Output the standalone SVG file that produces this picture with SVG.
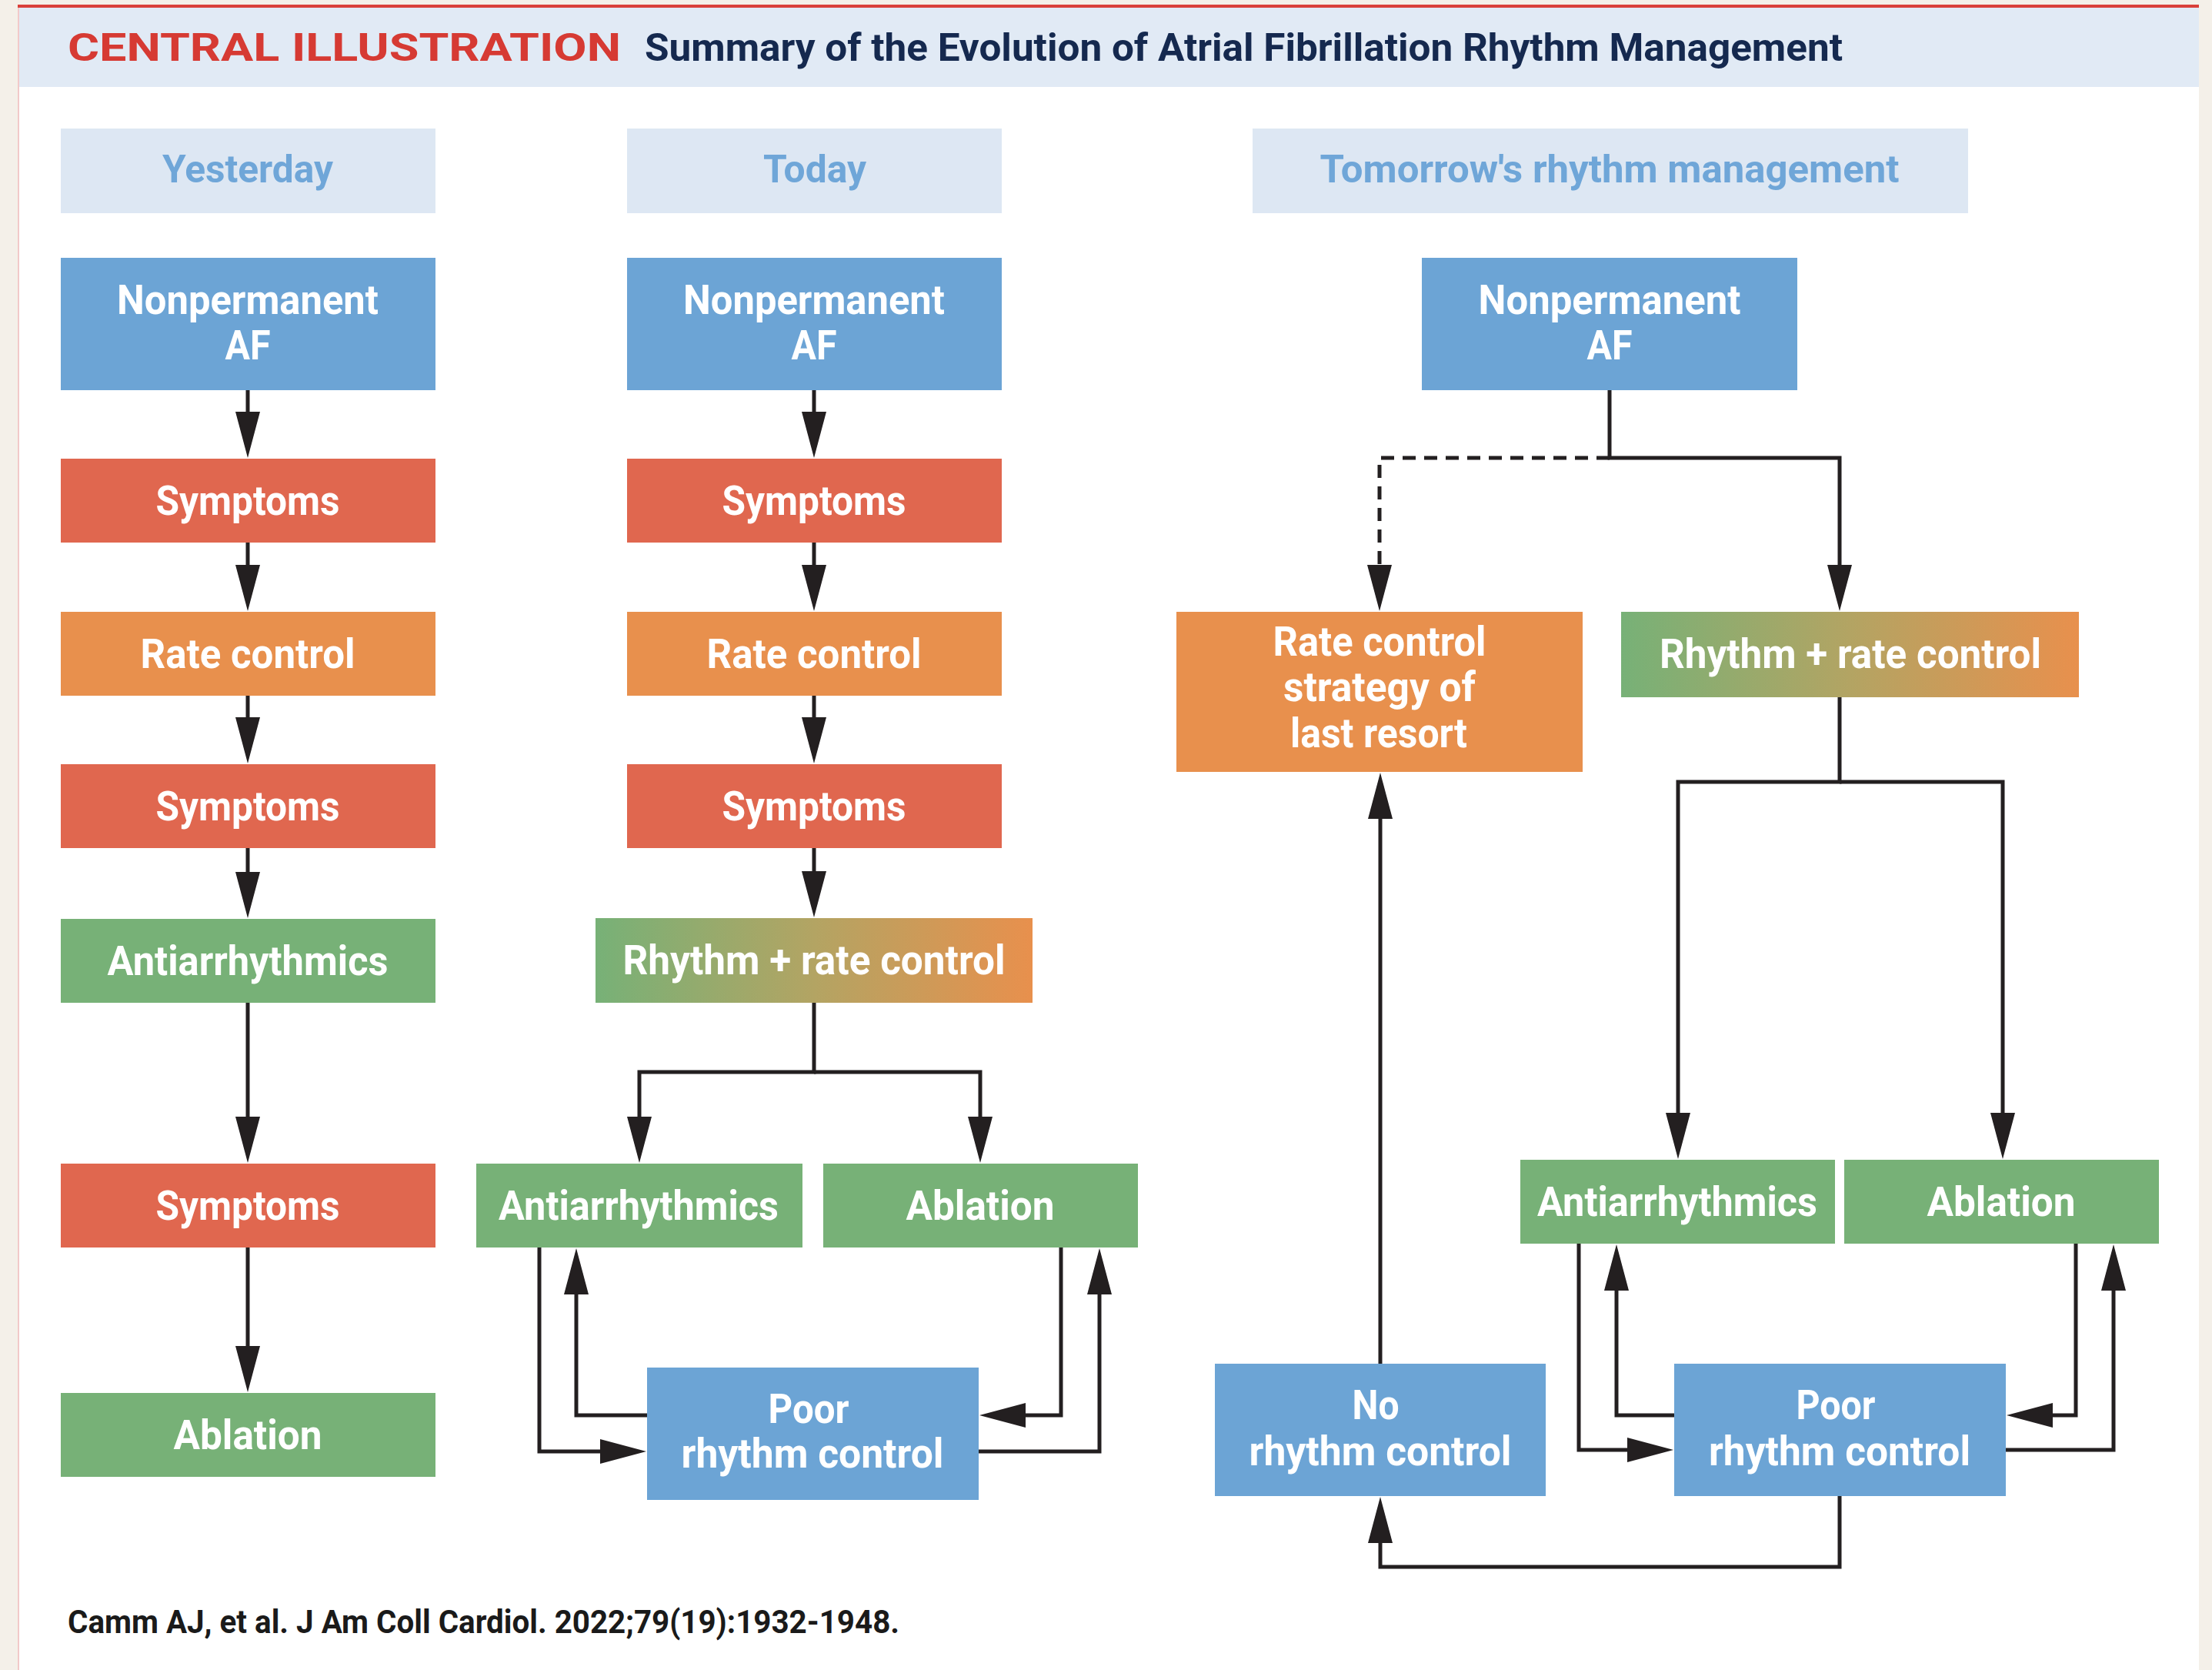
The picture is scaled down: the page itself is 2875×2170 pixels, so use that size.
<svg xmlns="http://www.w3.org/2000/svg" width="2875" height="2170" viewBox="0 0 2875 2170">
<defs>
<style>
.bg{fill:#F4F0E9}
.panel{fill:#FFFFFF}
.band{fill:#E1EAF5}
.hdr{fill:#DDE7F3}
.hdrt{font-family:Roboto,"Liberation Sans",sans-serif;font-weight:700;font-size:50px;fill:#6FA6D8;text-anchor:middle}
.blue{fill:#6CA4D5}
.red{fill:#E0674F}
.orange{fill:#E8904D}
.green{fill:#77B177}
.grad{fill:url(#rr)}
.lbl{font-family:Roboto,"Liberation Sans",sans-serif;font-weight:700;font-size:53px;fill:#FFFFFF;text-anchor:middle}
.ln{fill:none;stroke:#231F20;stroke-width:5;stroke-linejoin:miter;marker-end:url(#ah)}
.plain{fill:none;stroke:#231F20;stroke-width:5}
.dash{stroke-dasharray:17 11}
</style>
<marker id="ah" viewBox="0 0 60 32" refX="1" refY="16" markerWidth="60" markerHeight="32" markerUnits="userSpaceOnUse" orient="auto">
<path d="M0,0 L60,16 L0,32 Z" fill="#231F20"/>
</marker>
<linearGradient id="rr" x1="0" y1="0" x2="1" y2="0">
<stop offset="0" stop-color="#77B177"/>
<stop offset="0.5" stop-color="#B3A463"/>
<stop offset="1" stop-color="#E8904D"/>
</linearGradient>
</defs>

<rect class="bg" x="0" y="0" width="2875" height="2170"/>
<rect class="panel" x="23" y="8" width="2835" height="2162"/>
<rect x="23" y="10" width="2" height="2160" fill="#F2C9C9"/>
<rect x="23" y="6" width="2835" height="4" fill="#D9403A"/>
<rect class="band" x="25" y="10" width="2833" height="103"/>

<g id="title">
<text x="88" y="79" font-family="Roboto,'Liberation Sans',sans-serif" font-weight="700" font-size="50" fill="#D63A33" textLength="719" lengthAdjust="spacingAndGlyphs">CENTRAL ILLUSTRATION</text>
<text x="838" y="79" font-family="Roboto,'Liberation Sans',sans-serif" font-weight="700" font-size="50" fill="#15294F" textLength="1557" lengthAdjust="spacingAndGlyphs">Summary of the Evolution of Atrial Fibrillation Rhythm Management</text>
</g>

<g id="hdr-yesterday"><rect class="hdr" x="79" y="167" width="487" height="110"/><text class="hdrt" x="322" y="237" textLength="222" lengthAdjust="spacingAndGlyphs">Yesterday</text></g>
<g id="hdr-today"><rect class="hdr" x="815" y="167" width="487" height="110"/><text class="hdrt" x="1059" y="237" textLength="134" lengthAdjust="spacingAndGlyphs">Today</text></g>
<g id="hdr-tomorrow"><rect class="hdr" x="1628" y="167" width="930" height="110"/><text class="hdrt" x="2092" y="237" textLength="753" lengthAdjust="spacingAndGlyphs">Tomorrow's rhythm management</text></g>

<!-- Yesterday column -->
<g id="y1"><rect class="blue" x="79" y="335" width="487" height="172"/><text class="lbl" x="322" y="408" textLength="340" lengthAdjust="spacingAndGlyphs">Nonpermanent</text><text class="lbl" x="322" y="467" textLength="59" lengthAdjust="spacingAndGlyphs">AF</text></g>
<g id="y2"><rect class="red" x="79" y="596" width="487" height="109"/><text class="lbl" x="322" y="669" textLength="239" lengthAdjust="spacingAndGlyphs">Symptoms</text></g>
<g id="y3"><rect class="orange" x="79" y="795" width="487" height="109"/><text class="lbl" x="322" y="868" textLength="279" lengthAdjust="spacingAndGlyphs">Rate control</text></g>
<g id="y4"><rect class="red" x="79" y="993" width="487" height="109"/><text class="lbl" x="322" y="1066" textLength="239" lengthAdjust="spacingAndGlyphs">Symptoms</text></g>
<g id="y5"><rect class="green" x="79" y="1194" width="487" height="109"/><text class="lbl" x="322" y="1267" textLength="365" lengthAdjust="spacingAndGlyphs">Antiarrhythmics</text></g>
<g id="y6"><rect class="red" x="79" y="1512" width="487" height="109"/><text class="lbl" x="322" y="1585" textLength="239" lengthAdjust="spacingAndGlyphs">Symptoms</text></g>
<g id="y7"><rect class="green" x="79" y="1810" width="487" height="109"/><text class="lbl" x="322" y="1883" textLength="193" lengthAdjust="spacingAndGlyphs">Ablation</text></g>

<!-- Today column -->
<g id="t1"><rect class="blue" x="815" y="335" width="487" height="172"/><text class="lbl" x="1058" y="408" textLength="340" lengthAdjust="spacingAndGlyphs">Nonpermanent</text><text class="lbl" x="1058" y="467" textLength="59" lengthAdjust="spacingAndGlyphs">AF</text></g>
<g id="t2"><rect class="red" x="815" y="596" width="487" height="109"/><text class="lbl" x="1058" y="669" textLength="239" lengthAdjust="spacingAndGlyphs">Symptoms</text></g>
<g id="t3"><rect class="orange" x="815" y="795" width="487" height="109"/><text class="lbl" x="1058" y="868" textLength="279" lengthAdjust="spacingAndGlyphs">Rate control</text></g>
<g id="t4"><rect class="red" x="815" y="993" width="487" height="109"/><text class="lbl" x="1058" y="1066" textLength="239" lengthAdjust="spacingAndGlyphs">Symptoms</text></g>
<g id="t5"><rect class="grad" x="774" y="1193" width="568" height="110"/><text class="lbl" x="1058" y="1266" textLength="497" lengthAdjust="spacingAndGlyphs">Rhythm + rate control</text></g>
<g id="t6"><rect class="green" x="619" y="1512" width="424" height="109"/><text class="lbl" x="830" y="1585" textLength="364" lengthAdjust="spacingAndGlyphs">Antiarrhythmics</text></g>
<g id="t7"><rect class="green" x="1070" y="1512" width="409" height="109"/><text class="lbl" x="1274" y="1585" textLength="193" lengthAdjust="spacingAndGlyphs">Ablation</text></g>
<g id="t8"><rect class="blue" x="841" y="1777" width="431" height="172"/><text class="lbl" x="1051" y="1849" textLength="105" lengthAdjust="spacingAndGlyphs">Poor</text><text class="lbl" x="1056" y="1907" textLength="341" lengthAdjust="spacingAndGlyphs">rhythm control</text></g>

<!-- Tomorrow column -->
<g id="m1"><rect class="blue" x="1848" y="335" width="488" height="172"/><text class="lbl" x="2092" y="408" textLength="341" lengthAdjust="spacingAndGlyphs">Nonpermanent</text><text class="lbl" x="2092" y="467" textLength="59" lengthAdjust="spacingAndGlyphs">AF</text></g>
<g id="m2"><rect class="orange" x="1529" y="795" width="528" height="208"/><text class="lbl" x="1793" y="852" textLength="277" lengthAdjust="spacingAndGlyphs">Rate control</text><text class="lbl" x="1793" y="911" textLength="250" lengthAdjust="spacingAndGlyphs">strategy of</text><text class="lbl" x="1792" y="971" textLength="230" lengthAdjust="spacingAndGlyphs">last resort</text></g>
<g id="m3"><rect class="grad" x="2107" y="795" width="595" height="111"/><text class="lbl" x="2405" y="868" textLength="496" lengthAdjust="spacingAndGlyphs">Rhythm + rate control</text></g>
<g id="m4"><rect class="green" x="1976" y="1507" width="409" height="109"/><text class="lbl" x="2180" y="1580" textLength="364" lengthAdjust="spacingAndGlyphs">Antiarrhythmics</text></g>
<g id="m5"><rect class="green" x="2397" y="1507" width="409" height="109"/><text class="lbl" x="2601" y="1580" textLength="193" lengthAdjust="spacingAndGlyphs">Ablation</text></g>
<g id="m6"><rect class="blue" x="1579" y="1772" width="430" height="172"/><text class="lbl" x="1788" y="1844" textLength="61" lengthAdjust="spacingAndGlyphs">No</text><text class="lbl" x="1794" y="1904" textLength="341" lengthAdjust="spacingAndGlyphs">rhythm control</text></g>
<g id="m7"><rect class="blue" x="2176" y="1772" width="431" height="172"/><text class="lbl" x="2386" y="1844" textLength="103" lengthAdjust="spacingAndGlyphs">Poor</text><text class="lbl" x="2391" y="1904" textLength="340" lengthAdjust="spacingAndGlyphs">rhythm control</text></g>

<g id="connectors">
<!-- Yesterday -->
<path class="ln" d="M322,507 V536"/>
<path class="ln" d="M322,705 V735"/>
<path class="ln" d="M322,904 V933"/>
<path class="ln" d="M322,1102 V1134"/>
<path class="ln" d="M322,1303 V1452"/>
<path class="ln" d="M322,1621 V1750"/>
<!-- Today -->
<path class="ln" d="M1058,507 V536"/>
<path class="ln" d="M1058,705 V735"/>
<path class="ln" d="M1058,904 V933"/>
<path class="ln" d="M1058,1102 V1133"/>
<path class="ln" d="M1058,1303 V1393 H831 V1452"/>
<path class="ln" d="M1058,1393 H1274 V1452"/>
<path class="ln" d="M701,1621 V1886 H781"/>
<path class="ln" d="M841,1839 H749 V1681"/>
<path class="ln" d="M1379,1621 V1839 H1332"/>
<path class="ln" d="M1272,1886 H1429 V1681"/>
<!-- Tomorrow -->
<path class="ln" d="M2092,507 V595 H2391 V735"/>
<path class="ln dash" d="M2092,595 H1793 V735"/>
<path class="ln" d="M2391,906 V1016 H2181 V1447"/>
<path class="ln" d="M2391,1016 H2603 V1447"/>
<path class="ln" d="M1794,1772 V1063"/>
<path class="ln" d="M2391,1944 V2036 H1794 V2004"/>
<path class="ln" d="M2052,1616 V1884 H2116"/>
<path class="ln" d="M2176,1839 H2101 V1676"/>
<path class="ln" d="M2698,1616 V1839 H2667"/>
<path class="ln" d="M2607,1884 H2747 V1676"/>
</g>

<text id="citation" x="88" y="2122" font-family="Roboto,'Liberation Sans',sans-serif" font-weight="700" font-size="42" fill="#1A1A1A" textLength="1081" lengthAdjust="spacingAndGlyphs">Camm AJ, et al. J Am Coll Cardiol. 2022;79(19):1932-1948.</text>
</svg>
